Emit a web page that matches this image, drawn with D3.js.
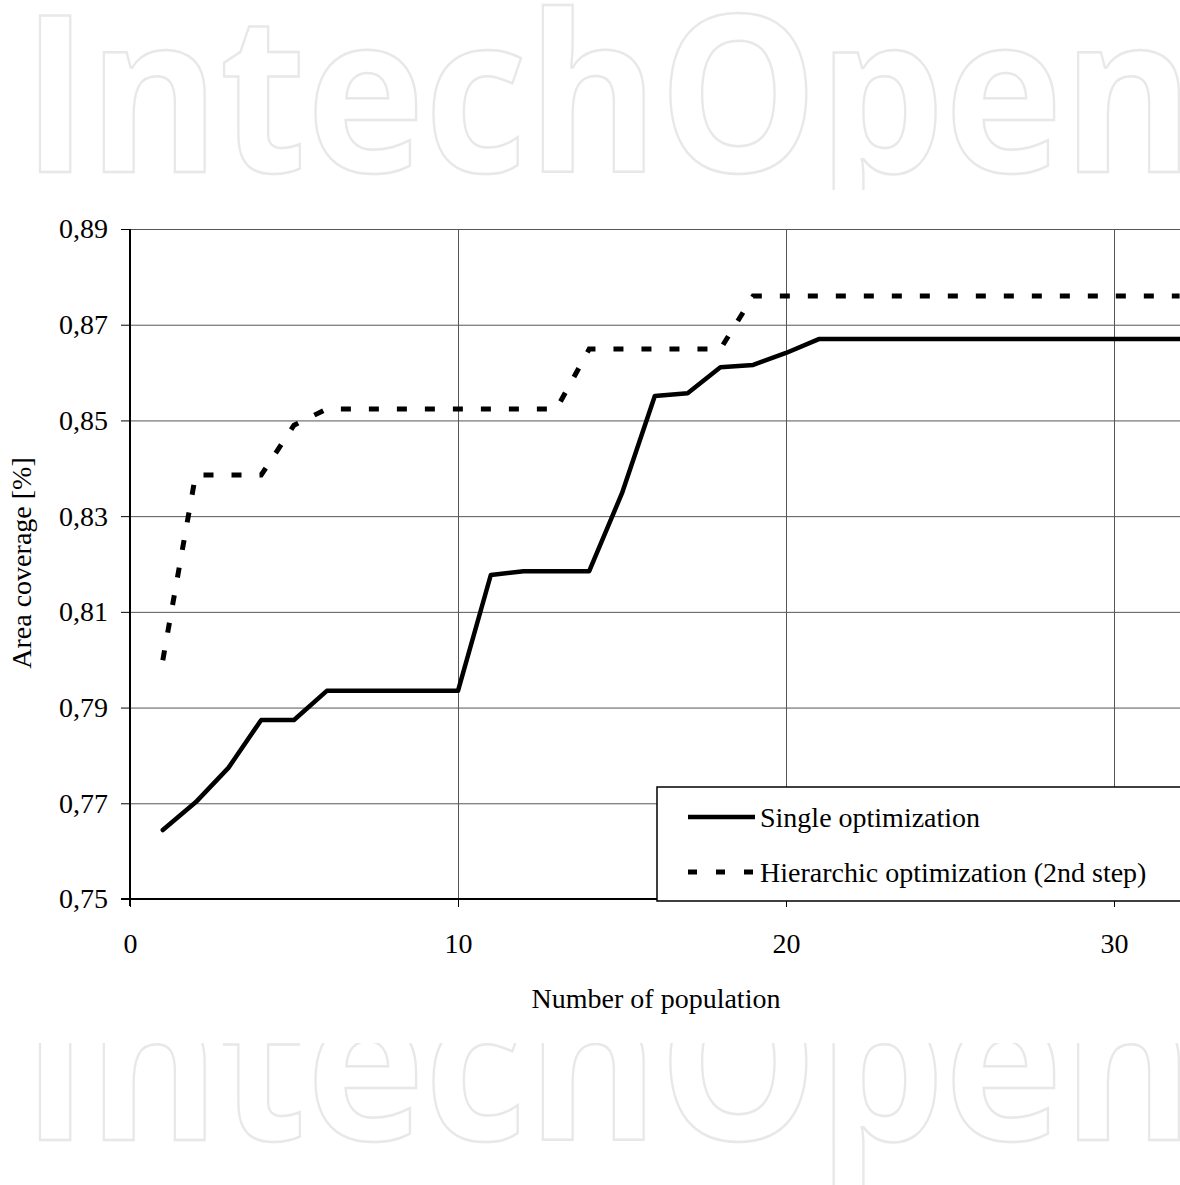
<!DOCTYPE html>
<html lang="en">
<head>
<meta charset="utf-8">
<title>Area coverage</title>
<style>
  body { margin: 0; background: #fff; }
  text { font-family: "Liberation Serif", "Times New Roman", serif; fill: #000; }
  .axis path, .axis line { stroke: #000; }
  .grid line { stroke: #555; stroke-width: 1; }
  .grid path { display: none; }
  .mark { font-family: "Open Sans", sans-serif; font-weight: 700; font-size: 220px; fill: none; stroke: #e8e8e8; stroke-width: 2.5; }
</style>
</head>
<body>
<script src="https://cdn.jsdelivr.net/npm/d3@7"></script>
<script>
// population number 1..32
var population = d3.range(1, 33);

// Single optimization
var single = [0.7644, 0.7702, 0.7774, 0.7874, 0.7874, 0.7935, 0.7935, 0.7935,
  0.7935, 0.7935, 0.8177, 0.8185, 0.8185, 0.8185, 0.8348, 0.8551, 0.8557,
  0.8611, 0.8616, 0.8641, 0.8670, 0.8670, 0.8670, 0.8670, 0.8670, 0.8670,
  0.8670, 0.8670, 0.8670, 0.8670, 0.8670, 0.8670];

// Hierarchic optimization (2nd step)
var hierarchic = [0.7999, 0.8386, 0.8386, 0.8386, 0.8490, 0.8524, 0.8524,
  0.8524, 0.8524, 0.8524, 0.8524, 0.8524, 0.8524, 0.8649, 0.8649, 0.8649,
  0.8649, 0.8649, 0.8760, 0.8760, 0.8760, 0.8760, 0.8760, 0.8760, 0.8760,
  0.8760, 0.8760, 0.8760, 0.8760, 0.8760, 0.8760, 0.8760];

var yTicks = [0.75, 0.77, 0.79, 0.81, 0.83, 0.85, 0.87, 0.89];
var xTicks = [0, 10, 20, 30];

var w = 1180, h = 1185;

var svg = d3.select("body").append("svg")
  .attr("width", w)
  .attr("height", h);

// watermark, top and bottom, partly covered by the white chart area
[172, 1140].forEach(function(y) {
  svg.append("text").attr("class", "mark")
    .attr("x", 22).attr("y", y)
    .attr("textLength", 1172).attr("lengthAdjust", "spacingAndGlyphs")
    .text("IntechOpen");
});
svg.append("rect")
  .attr("x", 0).attr("y", 190)
  .attr("width", w).attr("height", 853)
  .attr("fill", "#fff");

var xScale = d3.scaleLinear().domain([0, 32]).range([130, 1179.6]);
var yScale = d3.scaleLinear().domain([0.75, 0.89]).range([899, 229]);

var fmt = function(d) { return d3.format(".2f")(d).replace(".", ","); };

// horizontal grid
svg.append("g")
  .attr("class", "grid")
  .attr("transform", "translate(130,0)")
  .call(d3.axisLeft(yScale).tickValues(yTicks.slice(1)).tickSize(-(w - 130)).tickFormat(""));

// vertical grid
svg.append("g")
  .attr("class", "grid")
  .attr("transform", "translate(0,229)")
  .call(d3.axisBottom(xScale).tickValues(xTicks.slice(1)).tickSize(899 - 229).tickFormat(""));

// y axis
var yAxis = svg.append("g")
  .attr("class", "axis")
  .attr("transform", "translate(130,0)")
  .call(d3.axisLeft(yScale).tickValues(yTicks).tickSize(9).tickPadding(13).tickFormat(fmt));
yAxis.select(".domain").attr("stroke-width", 2).attr("d", "M0,229V906");
yAxis.selectAll("text").attr("font-size", 28).attr("font-family", "Liberation Serif, serif").attr("fill", "#000");

// x axis
var xAxis = svg.append("g")
  .attr("class", "axis")
  .attr("transform", "translate(0,899)")
  .call(d3.axisBottom(xScale).tickValues(xTicks).tickSize(8).tickPadding(26).tickFormat(d3.format("d")));
xAxis.select(".domain").attr("stroke-width", 2).attr("d", "M121,0H1180");
xAxis.selectAll("text").attr("font-size", 28).attr("font-family", "Liberation Serif, serif").attr("fill", "#000");

// lines
var line = function(vals) {
  return d3.line()
    .x(function(d, i) { return xScale(population[i]); })
    .y(function(d) { return yScale(d); })(vals);
};

svg.append("path")
  .attr("d", line(hierarchic))
  .attr("fill", "none")
  .attr("stroke", "#000")
  .attr("stroke-width", 5)
  .attr("stroke-dasharray", "10,18");

svg.append("path")
  .attr("d", line(single))
  .attr("fill", "none")
  .attr("stroke", "#000")
  .attr("stroke-width", 4.5)
  .attr("stroke-linejoin", "round")
  .attr("stroke-linecap", "round");

// legend
var legend = svg.append("g").attr("transform", "translate(657,787)");
legend.append("rect")
  .attr("width", 540).attr("height", 114)
  .attr("fill", "#fff").attr("stroke", "#000").attr("stroke-width", 1.5);
legend.append("line")
  .attr("x1", 31).attr("x2", 98).attr("y1", 30).attr("y2", 30)
  .attr("stroke", "#000").attr("stroke-width", 4.5);
legend.append("line")
  .attr("x1", 31).attr("x2", 98).attr("y1", 85).attr("y2", 85)
  .attr("stroke", "#000").attr("stroke-width", 5)
  .attr("stroke-dasharray", "9,19");
legend.append("text").attr("x", 103).attr("y", 40).attr("font-size", 28).text("Single optimization");
legend.append("text").attr("x", 103).attr("y", 95).attr("font-size", 28).text("Hierarchic optimization (2nd step)");

// axis titles
svg.append("text")
  .attr("x", 656).attr("y", 1008)
  .attr("text-anchor", "middle").attr("font-size", 28)
  .text("Number of population");
svg.append("text")
  .attr("transform", "translate(31,563) rotate(-90)")
  .attr("text-anchor", "middle").attr("font-size", 28)
  .text("Area coverage [%]");
</script>
</body>
</html>
